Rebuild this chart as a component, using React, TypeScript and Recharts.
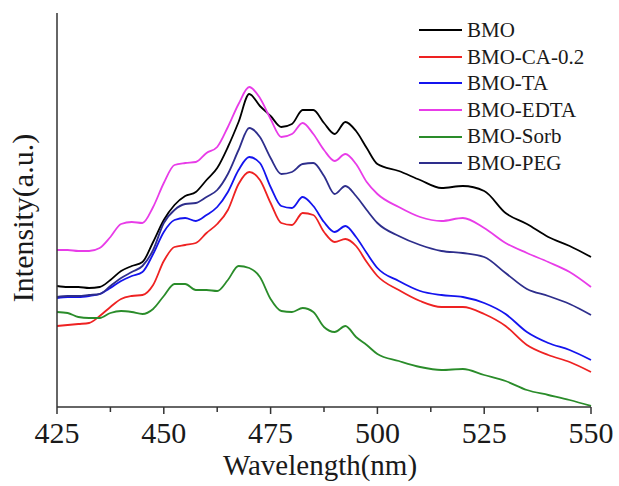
import { LineChart, Line, XAxis, YAxis } from 'recharts'

// wavelength (nm)
const wavelength = [
  425, 427.5, 430, 432.5, 435, 437.5, 440, 442.5, 445, 447.5, 450, 452.5, 455, 457.5, 460, 462.5,
  465, 467.5, 470, 472.5, 475, 477.5, 480, 482.5, 485, 487.5, 490, 492.5, 495, 497.5, 500,
  505, 510, 515, 520, 525, 530, 535, 540, 545, 550,
]

// intensity (a.u.), offset curves
const bmo = [
  121, 120, 120, 119, 120, 127, 136, 141, 145, 165, 187, 202, 211, 215, 227, 239,
  260, 285, 313, 301, 291, 280, 283, 297, 297, 284, 273, 285, 276, 259, 243,
  236, 227, 219, 221, 216, 194, 183, 170, 161, 150,
]
const bmoCA = [
  81, 82, 83, 84, 91, 100, 108, 111, 112, 122, 146, 160, 162, 164, 174, 183,
  197, 223, 235, 227, 204, 184, 182, 194, 192, 175, 165, 168, 161, 145, 131,
  117, 106, 100, 100, 93, 81, 62, 52, 45, 35,
]
const bmoTA = [
  109, 110, 110, 111, 113, 119, 126, 131, 135, 153, 175, 187, 189, 186, 192, 200,
  215, 237, 250, 244, 220, 201, 199, 210, 201, 185, 175, 181, 170, 154, 139,
  126, 116, 112, 110, 104, 93, 75, 64, 57, 47,
]
const bmoEDTA = [
  157, 157, 156, 156, 159, 170, 183, 185, 184, 200, 224, 242, 244, 245, 254, 260,
  280, 303, 320, 309, 288, 270, 273, 284, 273, 257, 246, 253, 243, 225, 213,
  200, 190, 186, 189, 179, 164, 154, 145, 135, 120,
]
const bmoSorb = [
  95, 94, 90, 89, 89, 94, 96, 95, 93, 98, 111, 123, 123, 117, 117, 116,
  127, 141, 139, 130, 108, 96, 95, 99, 95, 80, 75, 81, 70, 62, 53,
  46, 40, 37, 38, 32, 26, 17, 12, 7, 1,
]
const bmoPEG = [
  110, 111, 111, 112, 113, 121, 129, 135, 141, 157, 184, 197, 203, 204, 210, 217,
  233, 257, 279, 270, 249, 233, 235, 243, 244, 231, 213, 221, 211, 197, 184,
  171, 162, 156, 154, 150, 134, 118, 111, 103, 92,
]

const xTicks = [425, 437.5, 450, 462.5, 475, 487.5, 500, 512.5, 525, 537.5, 550]

const series = [
  { key: 'bmo', name: 'BMO', color: '#000000', values: bmo },
  { key: 'ca', name: 'BMO-CA-0.2', color: '#ee2222', values: bmoCA },
  { key: 'ta', name: 'BMO-TA', color: '#1414ee', values: bmoTA },
  { key: 'edta', name: 'BMO-EDTA', color: '#e83ce8', values: bmoEDTA },
  { key: 'sorb', name: 'BMO-Sorb', color: '#2a8c2a', values: bmoSorb },
  { key: 'peg', name: 'BMO-PEG', color: '#2e2e8c', values: bmoPEG },
]

const data = wavelength.map((wl, i) => {
  const row: Record<string, number> = { wl }
  series.forEach((s) => {
    row[s.key] = s.values[i]
  })
  return row
})

const serif = '"Liberation Serif", "Times New Roman", serif'
const axisColor = '#333'

const WaveTick = ({ x, y, payload }: any) => {
  const major = payload.value % 25 === 0
  return (
    <g>
      <line x1={x} x2={x} y1={y} y2={y + (major ? 7 : 5)} stroke={axisColor} strokeWidth={1.5} />
      {major && (
        <text x={x} y={y + 36} textAnchor="middle" fontSize={30} fontFamily={serif} fill="#1a1a1a">
          {payload.value}
        </text>
      )}
    </g>
  )
}

const XTitle = ({ viewBox }: any) => (
  <text
    x={viewBox.x + viewBox.width / 2 - 4}
    y={viewBox.y + 68}
    textAnchor="middle"
    fontSize={29}
    fontFamily={serif}
    fill="#1a1a1a"
  >
    Wavelength(nm)
  </text>
)

const YTitle = ({ viewBox }: any) => {
  const cx = viewBox.x + 33
  const cy = viewBox.y + viewBox.height / 2 + 8
  return (
    <text
      x={cx}
      y={cy}
      transform={`rotate(-90 ${cx} ${cy})`}
      textAnchor="middle"
      fontSize={30}
      fontFamily={serif}
      fill="#1a1a1a"
    >
      Intensity(a.u.)
    </text>
  )
}

export default function App() {
  return (
    <div style={{ position: 'absolute', left: 0, top: 0, width: 619, height: 486, background: '#fff' }}>
      <LineChart width={619} height={486} data={data} margin={{ top: 13, right: 28, bottom: 0, left: 0 }}>
        <XAxis
          dataKey="wl"
          type="number"
          domain={[425, 550]}
          ticks={xTicks}
          interval={0}
          tick={<WaveTick />}
          tickLine={false}
          tickSize={0}
          tickMargin={0}
          height={79}
          axisLine={{ stroke: axisColor, strokeWidth: 1.5 }}
          label={<XTitle />}
        />
        <XAxis
          xAxisId="top"
          orientation="top"
          dataKey="wl"
          type="number"
          domain={[425, 550]}
          tick={false}
          tickLine={false}
          height={0}
          axisLine={{ stroke: axisColor, strokeWidth: 1.5 }}
        />
        <YAxis
          type="number"
          domain={[0, 394]}
          allowDataOverflow
          tick={false}
          tickLine={false}
          width={57}
          axisLine={{ stroke: axisColor, strokeWidth: 1.5 }}
          label={<YTitle />}
        />
        <YAxis
          yAxisId="right"
          orientation="right"
          type="number"
          domain={[0, 394]}
          tick={false}
          tickLine={false}
          width={0}
          axisLine={{ stroke: axisColor, strokeWidth: 1.5 }}
        />
        {series.map((s) => (
          <Line
            key={s.key}
            dataKey={s.key}
            name={s.name}
            type="monotone"
            stroke={s.color}
            strokeWidth={1.8}
            dot={false}
            isAnimationActive={false}
          />
        ))}
      </LineChart>
      <div style={{ position: 'absolute', left: 419, top: 17, fontFamily: serif, fontSize: 21, color: '#1a1a1a' }}>
        {series.map((s) => (
          <div key={s.key} style={{ display: 'flex', alignItems: 'center', height: 26.6 }}>
            <span style={{ display: 'inline-block', width: 43, height: 2, background: s.color, marginRight: 5 }} />
            <span style={{ lineHeight: '26.6px' }}>{s.name}</span>
          </div>
        ))}
      </div>
    </div>
  )
}
